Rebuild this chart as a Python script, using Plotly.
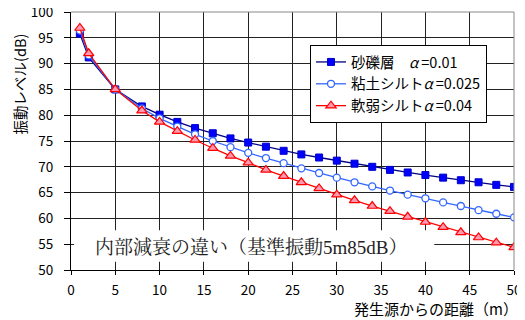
import plotly.graph_objects as go

distance = [1, 2, 5, 8, 10, 12, 14, 16, 18, 20, 22, 24, 26, 28, 30, 32, 34, 36, 38, 40, 42, 44, 46, 48, 50]
gravel = [95.8, 91.2, 85.0, 81.7, 80.1, 78.7, 77.5, 76.5, 75.5, 74.7, 73.9, 73.1, 72.4, 71.8, 71.2,
          70.6, 70.0, 69.4, 68.9, 68.4, 67.9, 67.4, 67.0, 66.5, 66.1]
clay = [96.4, 91.6, 85.0, 81.3, 79.4, 77.8, 76.3, 75.0, 73.8, 72.7, 71.7, 70.7, 69.7, 68.8, 67.9,
        67.0, 66.2, 65.4, 64.6, 63.9, 63.1, 62.4, 61.6, 60.9, 60.2]
soft = [96.9, 92.0, 85.0, 80.9, 78.7, 76.9, 75.2, 73.6, 72.1, 70.8, 69.4, 68.2, 67.0, 65.8, 64.6,
        63.5, 62.4, 61.4, 60.3, 59.3, 58.3, 57.3, 56.3, 55.3, 54.4]
names = ["砂礫層　<i>α</i> =0.01", "粘土シルト<i>α</i> =0.025", "軟弱シルト<i>α</i> =0.04"]
x_ticks = [0, 5, 10, 15, 20, 25, 30, 35, 40, 45, 50]
y_ticks = [50, 55, 60, 65, 70, 75, 80, 85, 90, 95, 100]

SANS = "Noto Sans CJK JP, Arial, sans-serif"

fig = go.Figure()
fig.add_trace(go.Scatter(x=distance, y=gravel, name=names[0], mode="lines+markers",
                         line=dict(color="#000080", width=1.3),
                         marker=dict(symbol="square", size=7, color="#0000FF",
                                     line=dict(color="#0000CC", width=1))))
fig.add_trace(go.Scatter(x=distance, y=clay, name=names[1], mode="lines+markers",
                         line=dict(color="#3366FF", width=1.3),
                         marker=dict(symbol="circle", size=7, color="white",
                                     line=dict(color="#3366FF", width=1.3))))
fig.add_trace(go.Scatter(x=distance, y=soft, name=names[2], mode="lines+markers",
                         line=dict(color="#FF0000", width=1.3),
                         marker=dict(symbol="triangle-up", size=9, color="#FF99B0",
                                     line=dict(color="#FF0000", width=1.2))))

fig.update_layout(
    width=517, height=312,
    margin=dict(l=63, r=11, t=4, b=50, autoexpand=False),
    paper_bgcolor="white", plot_bgcolor="white",
    font=dict(family=SANS, size=13, color="black"),
    showlegend=True,
    legend=dict(x=0.5395, y=0.872, xanchor="left", yanchor="top",
                bgcolor="white", bordercolor="black", borderwidth=1,
                font=dict(family=SANS, size=14.5), tracegroupgap=0, itemwidth=30),
    xaxis=dict(range=[0, 50], tickvals=x_ticks, showgrid=True, gridcolor="#222222", gridwidth=1,
               showline=True, linecolor="black", linewidth=1, ticks="outside", ticklen=4,
               tickcolor="black", zeroline=False, ticklabelstandoff=4, automargin=False,
               ticklabeloverflow="allow",
               tickfont=dict(family=SANS, size=13.5)),
    yaxis=dict(range=[50, 100], tickvals=y_ticks, showgrid=True, gridcolor="#222222", gridwidth=1,
               showline=True, linecolor="black", linewidth=1, ticks="outside", ticklen=6,
               tickcolor="black", zeroline=False, ticklabelstandoff=8, automargin=False,
               ticklabeloverflow="allow",
               tickfont=dict(family=SANS, size=13.5)),
    shapes=[
        dict(type="rect", xref="x", yref="y", x0=0.35, x1=41.0, y0=51.6, y1=57.7,
             fillcolor="white", line=dict(width=0), layer="between"),
        dict(type="line", xref="paper", yref="paper", x0=0, x1=1, y0=1, y1=1,
             line=dict(color="#888888", width=1)),
        dict(type="line", xref="paper", yref="paper", x0=1, x1=1, y0=0, y1=1,
             line=dict(color="#888888", width=1)),
    ],
    annotations=[
        dict(text="内部減衰の違い（基準振動5m85dB）", xref="x", yref="y", x=20.3, y=54.4,
             showarrow=False, xanchor="center", yanchor="middle",
             font=dict(family="Liberation Serif, Noto Serif CJK JP, serif", size=19, color="#222222")),
        dict(text="振動レベル(dB)", xref="paper", yref="paper", x=-0.117, y=0.72,
             showarrow=False, textangle=-90, xanchor="center", yanchor="middle",
             font=dict(family=SANS, size=14.5)),
        dict(text="発生源からの距離（m）", xref="paper", yref="paper", x=1.0135, y=-0.148,
             showarrow=False, xanchor="right", yanchor="middle",
             font=dict(family=SANS, size=15)),
    ],
)

fig.write_html("out.html")
